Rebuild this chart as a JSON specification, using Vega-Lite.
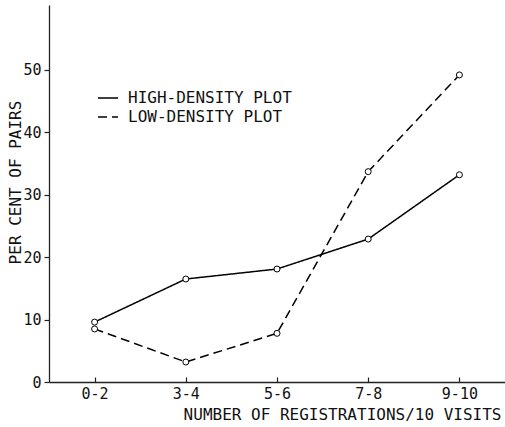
{
  "$schema": "https://vega.github.io/schema/vega-lite/v6.json",
  "width": 456,
  "height": 377,
  "autosize": {"type": "none"},
  "padding": {"left": 49, "top": 5, "right": 0, "bottom": 45},
  "background": "white",
  "config": {
    "view": {"stroke": null},
    "font": "DejaVu Sans Mono",
    "axis": {
      "grid": false,
      "domainColor": "#222",
      "tickColor": "#222",
      "labelColor": "#111",
      "titleColor": "#111",
      "labelFont": "DejaVu Sans Mono",
      "titleFont": "DejaVu Sans Mono",
      "labelFontSize": 15,
      "titleFontSize": 16,
      "titleFontWeight": "normal",
      "domainWidth": 1.3,
      "tickWidth": 1.2
    }
  },
  "data": {
    "values": [
      {"cat": "0-2", "series": "HIGH-DENSITY PLOT", "pct": 9.6},
      {"cat": "3-4", "series": "HIGH-DENSITY PLOT", "pct": 16.5},
      {"cat": "5-6", "series": "HIGH-DENSITY PLOT", "pct": 18.1},
      {"cat": "7-8", "series": "HIGH-DENSITY PLOT", "pct": 22.9},
      {"cat": "9-10", "series": "HIGH-DENSITY PLOT", "pct": 33.2},
      {"cat": "0-2", "series": "LOW-DENSITY PLOT", "pct": 8.5},
      {"cat": "3-4", "series": "LOW-DENSITY PLOT", "pct": 3.2},
      {"cat": "5-6", "series": "LOW-DENSITY PLOT", "pct": 7.8},
      {"cat": "7-8", "series": "LOW-DENSITY PLOT", "pct": 33.7},
      {"cat": "9-10", "series": "LOW-DENSITY PLOT", "pct": 49.2}
    ]
  },
  "encoding": {
    "x": {
      "field": "cat",
      "type": "ordinal",
      "sort": ["0-2", "3-4", "5-6", "7-8", "9-10"],
      "scale": {"type": "point", "padding": 0.5},
      "axis": {
        "title": "NUMBER OF REGISTRATIONS/10 VISITS",
        "labelAngle": 0,
        "tickSize": -5,
        "labelPadding": 9,
        "titleAnchor": "end",
        "titleAlign": "right",
        "titleX": 452,
        "titleY": 32,
        "titleBaseline": "middle"
      }
    },
    "y": {
      "field": "pct",
      "type": "quantitative",
      "scale": {"domain": [0, 60.4], "nice": false},
      "axis": {
        "title": "PER CENT OF PAIRS",
        "values": [0, 10, 20, 30, 40, 50],
        "tickSize": 5,
        "labelPadding": 3,
        "titleX": -34,
        "titleY": 177,
        "titleAngle": -90,
        "titleAlign": "center",
        "titleBaseline": "middle"
      }
    }
  },
  "layer": [
    {
      "mark": {"type": "line", "color": "black", "strokeWidth": 1.5},
      "encoding": {
        "strokeDash": {
          "field": "series",
          "type": "nominal",
          "scale": {
            "domain": ["HIGH-DENSITY PLOT", "LOW-DENSITY PLOT"],
            "range": [[1, 0], [9, 5]]
          },
          "legend": {
            "title": null,
            "orient": "none",
            "legendX": 48,
            "legendY": 82,
            "symbolType": "stroke",
            "symbolSize": 400,
            "symbolStrokeWidth": 1.4,
            "symbolStrokeColor": "black",
            "symbolDash": [8, 3],
            "labelFontSize": 16,
            "labelFont": "DejaVu Sans Mono",
            "labelColor": "#111",
            "labelLimit": 400,
            "labelOffset": 9,
            "rowPadding": 0
          }
        }
      }
    },
    {
      "mark": {"type": "point", "shape": "circle", "filled": true, "fill": "white", "stroke": "black", "strokeWidth": 1, "size": 36, "opacity": 1},
      "encoding": {"detail": {"field": "series", "type": "nominal"}}
    }
  ]
}
